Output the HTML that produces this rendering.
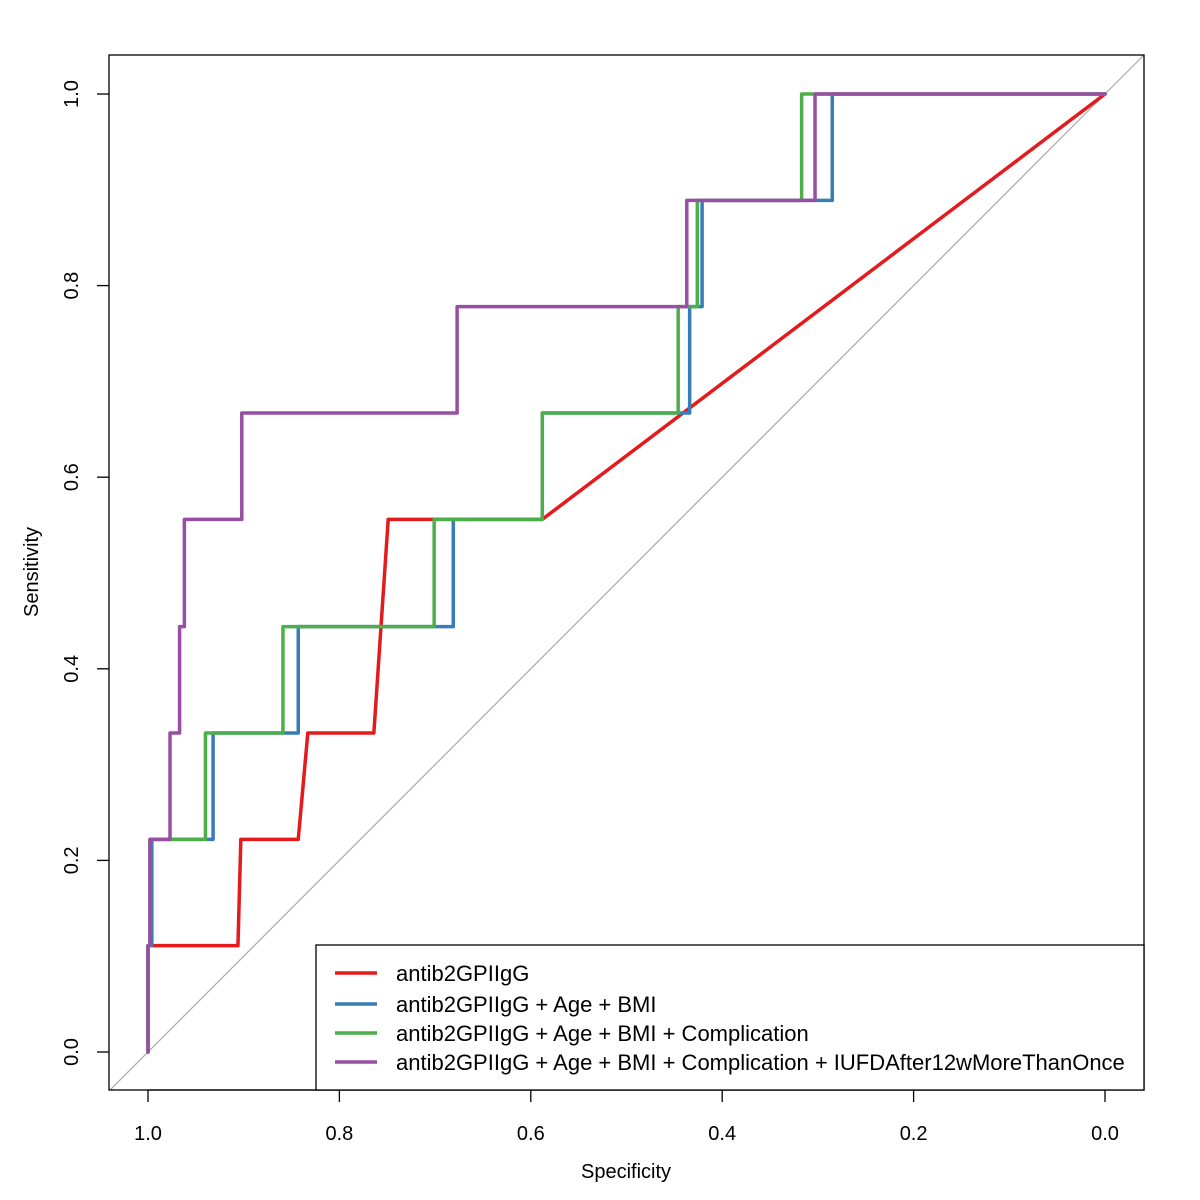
<!DOCTYPE html>
<html><head><meta charset="utf-8"><style>
html,body{margin:0;padding:0;background:#fff;}
svg{display:block;font-family:"Liberation Sans",Arial,sans-serif;}
</style></head><body>
<svg id="chart" width="1200" height="1200" xmlns="http://www.w3.org/2000/svg"></svg>
<script>
const xTicks = [1.0, 0.8, 0.6, 0.4, 0.2, 0.0];
const xTickLabels = ["1.0","0.8","0.6","0.4","0.2","0.0"];
const yTicks = [0.0, 0.2, 0.4, 0.6, 0.8, 1.0];
const yTickLabels = ["0.0","0.2","0.4","0.6","0.8","1.0"];
const seriesNames = ["antib2GPIIgG","antib2GPIIgG + Age + BMI","antib2GPIIgG + Age + BMI + Complication","antib2GPIIgG + Age + BMI + Complication + IUFDAfter12wMoreThanOnce"];
const redSpec = [1,1,0.906,0.903,0.843,0.833,0.764,0.749,0.588,0];
const redSens = [0,0.111,0.111,0.222,0.222,0.333,0.333,0.556,0.556,1];
const blueSpec = [1,1,0.996,0.996,0.932,0.932,0.843,0.843,0.681,0.681,0.588,0.588,0.434,0.434,0.421,0.421,0.285,0.285,0];
const blueSens = [0,0.111,0.111,0.222,0.222,0.333,0.333,0.444,0.444,0.556,0.556,0.667,0.667,0.778,0.778,0.889,0.889,1,1];
const greenSpec = [1,1,0.998,0.998,0.940,0.940,0.859,0.859,0.701,0.701,0.588,0.588,0.446,0.446,0.426,0.426,0.317,0.317,0];
const greenSens = [0,0.111,0.111,0.222,0.222,0.333,0.333,0.444,0.444,0.556,0.556,0.667,0.667,0.778,0.778,0.889,0.889,1,1];
const purpleSpec = [1,1,0.998,0.998,0.977,0.977,0.967,0.967,0.962,0.962,0.902,0.902,0.677,0.677,0.437,0.437,0.303,0.303,0];
const purpleSens = [0,0.111,0.111,0.222,0.222,0.333,0.333,0.444,0.444,0.556,0.556,0.667,0.667,0.778,0.778,0.889,0.889,1,1];

const colors = ["#e41a1c","#377eb8","#4daf4a","#984ea3"];
const NS = "http://www.w3.org/2000/svg";
const svg = document.getElementById("chart");
const X = s => 1105 - s*957;
const Y = v => 1052 - v*958;
function mk(tag, attrs, parent){const e=document.createElementNS(NS,tag);for(const k in attrs)e.setAttribute(k,attrs[k]);(parent||svg).appendChild(e);return e;}

const diag = mk("line",{x1:X(1.04),y1:Y(-0.04),x2:X(-0.04),y2:Y(1.04),stroke:"#aaa","stroke-width":1.2});



const allSpec=[redSpec,blueSpec,greenSpec,purpleSpec], allSens=[redSens,blueSens,greenSens,purpleSens];
const sNames=["series-antib2gpiigg","series-age-bmi","series-complication","series-iufd"];
for(let i=0;i<4;i++){
  const pts=allSpec[i].map((s,j)=>X(s)+","+Y(allSens[i][j])).join(" ");
  const pl=mk("polyline",{points:pts,fill:"none",stroke:colors[i],"stroke-width":3.5,"stroke-linejoin":"round","stroke-linecap":"round"});
  
  
}

const box = mk("rect",{x:109,y:55,width:1035,height:1035,fill:"none",stroke:"#000","stroke-width":1.3});



const xa = mk("line",{x1:X(1),y1:1090,x2:X(0),y2:1090,stroke:"#000","stroke-width":1.3});


xTicks.forEach((t,i)=>{
  const tk=mk("line",{x1:X(t),y1:1090,x2:X(t),y2:1102,stroke:"#000","stroke-width":1.3});
  
  
  const tl=mk("text",{x:X(t),y:1140,"font-size":20,"text-anchor":"middle"});
  tl.textContent=xTickLabels[i];
  
  
});
yTicks.forEach((t,i)=>{
  const tk=mk("line",{x1:97,y1:Y(t),x2:109,y2:Y(t),stroke:"#000","stroke-width":1.3});
  
  
  const tl=mk("text",{x:78,y:Y(t),"font-size":20,"text-anchor":"middle",transform:`rotate(-90 78 ${Y(t)})`});
  tl.textContent=yTickLabels[i];
  
  
});
const xt=mk("text",{x:626,y:1178,"font-size":20,"text-anchor":"middle"});
xt.textContent="Specificity";


const yt=mk("text",{x:38,y:572,"font-size":20,"text-anchor":"middle",transform:"rotate(-90 38 572)"});
yt.textContent="Sensitivity";



const lg=mk("g",{});


mk("rect",{x:316,y:945,width:828,height:145,fill:"#fff",stroke:"#000","stroke-width":1.3},lg);
const ly=[973,1004,1033,1062];
for(let i=0;i<4;i++){
  const g=mk("g",{},lg);
  
  
  mk("line",{x1:335,y1:ly[i],x2:377,y2:ly[i],stroke:colors[i],"stroke-width":3.5},g);
  const t=mk("text",{x:396,y:ly[i]+8,"font-size":22},g);
  t.textContent=seriesNames[i];
}
</script>
</body></html>
